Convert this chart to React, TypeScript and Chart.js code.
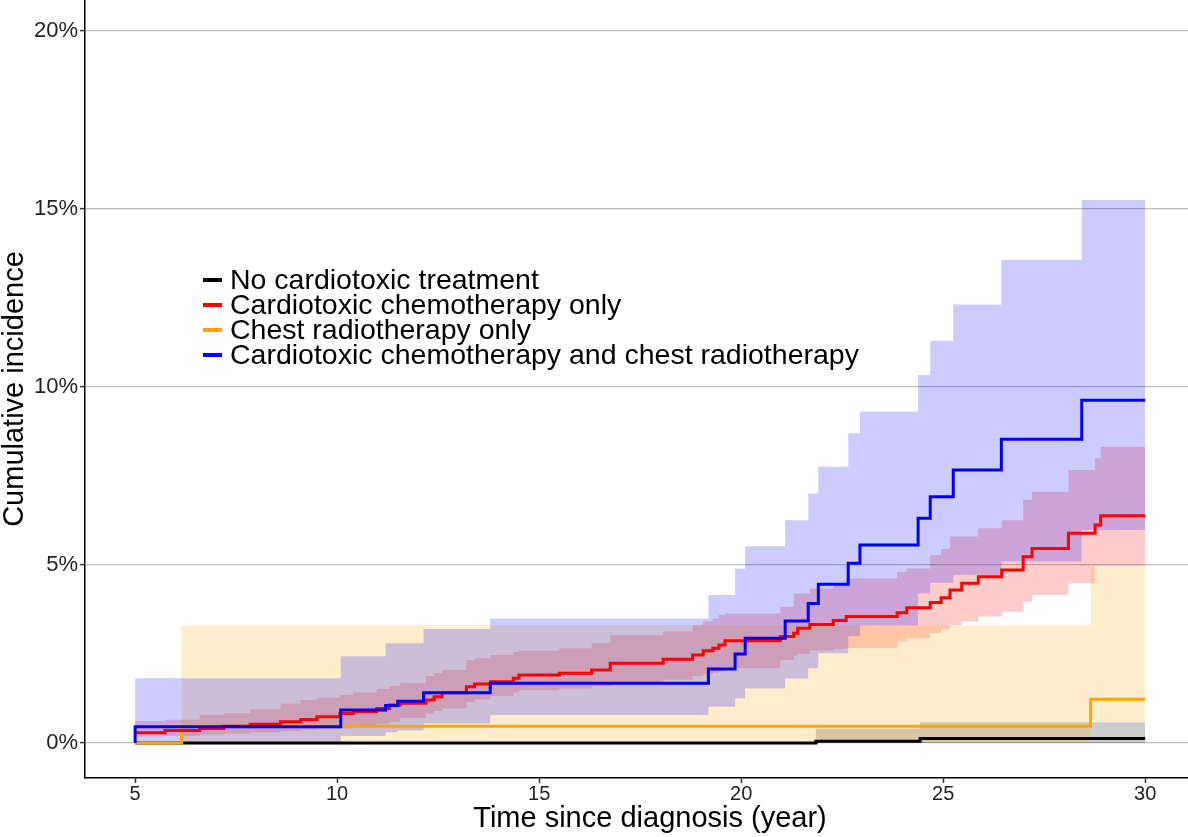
import React, { useEffect, useRef } from 'react';
import { Chart, registerables } from 'chart.js';

Chart.register(...registerables);

// ---------- data (percent) ----------
const X_TICKS = [5, 10, 15, 20, 25, 30];
const Y_TICKS = [0, 5, 10, 15, 20];
const X_TITLE = 'Time since diagnosis (year)';
const Y_TITLE = 'Cumulative incidence';

const LEGEND_LABELS = [
  'No cardiotoxic treatment',
  'Cardiotoxic chemotherapy only',
  'Chest radiotherapy only',
  'Cardiotoxic chemotherapy and chest radiotherapy',
];
const LEGEND_COLORS = ['#000000', '#FF0000', '#FFA500', '#0000FF'];

// No cardiotoxic treatment
const BLACK_T = [5, 21.85, 24.43, 30];
const BLACK_EST = [0, 0.05, 0.13, 0.13];
const BLACK_LO = [0, 0, 0, 0];
const BLACK_HI = [0, 0.4, 0.58, 0.58];

// Chest radiotherapy only
const ORANGE_T = [5, 6.15, 28.65, 30];
const ORANGE_EST = [0, 0.47, 1.23, 1.23];
const ORANGE_LO = [0, 0.03, 0.6, 0.6];
const ORANGE_HI = [0, 3.31, 4.92, 4.92];

// Cardiotoxic chemotherapy only
const RED_T = [5, 5.74, 6.6, 7.2, 7.85, 8.6, 9.1, 9.5, 10.07, 10.4, 10.98, 11.3, 11.56, 12.2, 12.4, 12.6, 13.2, 13.4, 13.8, 14.36, 14.5, 15.5, 16.3, 16.76, 18.07, 18.8, 19.06, 19.3, 19.45, 19.6, 20.97, 21.3, 21.4, 21.7, 22.28, 22.6, 23.86, 24.1, 24.68, 24.95, 25.17, 25.46, 25.87, 26.45, 26.98, 27.2, 28.1, 28.76, 28.9, 30];
const RED_EST = [0.29, 0.35, 0.41, 0.47, 0.53, 0.6, 0.66, 0.74, 0.83, 0.88, 0.97, 1.07, 1.12, 1.21, 1.3, 1.41, 1.58, 1.66, 1.72, 1.82, 1.91, 1.96, 2.05, 2.24, 2.35, 2.47, 2.59, 2.66, 2.75, 2.87, 2.99, 3.08, 3.22, 3.33, 3.44, 3.55, 3.66, 3.8, 3.95, 4.08, 4.3, 4.49, 4.67, 4.86, 5.23, 5.46, 5.89, 6.12, 6.38, 6.38];
const RED_HI = [0.62, 0.65, 0.79, 0.84, 0.95, 1.1, 1.21, 1.27, 1.35, 1.42, 1.52, 1.6, 1.68, 1.88, 1.96, 2.05, 2.33, 2.38, 2.47, 2.55, 2.6, 2.66, 2.8, 3.03, 3.13, 3.31, 3.41, 3.5, 3.6, 3.64, 3.83, 4.2, 4.2, 4.34, 4.45, 4.62, 4.81, 4.9, 5.28, 5.45, 5.8, 5.8, 6.03, 6.26, 6.83, 7.06, 7.67, 8.0, 8.32, 8.32];
const RED_LO = [0.18, 0.2, 0.24, 0.27, 0.3, 0.34, 0.37, 0.39, 0.41, 0.46, 0.55, 0.6, 0.7, 0.82, 0.9, 0.97, 1.15, 1.22, 1.32, 1.42, 1.48, 1.53, 1.6, 1.7, 1.78, 1.88, 1.93, 1.97, 2.02, 2.1, 2.33, 2.45, 2.5, 2.6, 2.65, 2.67, 2.85, 2.94, 3.08, 3.2, 3.31, 3.41, 3.55, 3.69, 3.97, 4.16, 4.49, 4.96, 4.96, 4.96];

// Cardiotoxic chemotherapy and chest radiotherapy
const BLUE_T = [5, 5, 10.09, 11.2, 11.5, 12.14, 13.79, 19.19, 19.85, 20.1, 21.09, 21.66, 21.91, 22.65, 22.94, 24.38, 24.68, 25.25, 26.44, 28.43, 30];
const BLUE_EST = [0, 0.46, 0.93, 1.05, 1.17, 1.41, 1.68, 2.08, 2.5, 2.94, 3.43, 3.92, 4.46, 5.05, 5.56, 6.31, 6.92, 7.67, 8.53, 9.63, 9.63];
const BLUE_HI = [0, 1.82, 2.44, 2.8, 2.8, 3.2, 3.5, 4.16, 4.9, 5.53, 6.26, 7.01, 7.76, 8.7, 9.31, 10.34, 11.3, 12.32, 13.57, 15.25, 15.25];
const BLUE_LO = [0, 0, 0.2, 0.3, 0.35, 0.55, 0.79, 1.02, 1.25, 1.53, 1.81, 2.1, 2.52, 3.0, 3.3, 4.2, 4.5, 4.72, 5.1, 5.98, 5.98];

// ---------- helpers ----------
const pts = (t: number[], v: number[]) => t.map((x, i) => ({ x, y: v[i] }));

const lineDs = (label: string, t: number[], v: number[], color: string) => ({
  label,
  data: pts(t, v),
  borderColor: color,
  borderWidth: 3,
  pointRadius: 0,
  stepped: true,
  fill: false,
});

const bandDs = (t: number[], lo: number[], hi: number[], fillColor: string) => [
  {
    label: 'hi',
    data: pts(t, hi),
    borderColor: 'rgba(0,0,0,0)',
    borderWidth: 0,
    pointRadius: 0,
    stepped: true,
    backgroundColor: fillColor,
    fill: '+1',
  },
  {
    label: 'lo',
    data: pts(t, lo),
    borderColor: 'rgba(0,0,0,0)',
    borderWidth: 0,
    pointRadius: 0,
    stepped: true,
    fill: false,
  },
];

const FONT = '"Liberation Sans", Arial, sans-serif';

const insideLegend = {
  id: 'insideLegend',
  afterDatasetsDraw(chart: any) {
    const ctx = chart.ctx;
    const { left, top } = chart.chartArea;
    ctx.save();
    ctx.font = `28.5px ${FONT}`;
    ctx.textBaseline = 'middle';
    ctx.textAlign = 'left';
    LEGEND_LABELS.forEach((lab, i) => {
      const y = top + 280 + i * 25;
      ctx.strokeStyle = LEGEND_COLORS[i];
      ctx.lineWidth = 4;
      ctx.beginPath();
      ctx.moveTo(left + 118, y);
      ctx.lineTo(left + 137, y);
      ctx.stroke();
      ctx.fillStyle = '#000';
      ctx.fillText(lab, left + 145, y + 1);
    });
    ctx.restore();
  },
};

// x-axis title, centred on the (partly cropped) panel like the original
const xTitle = {
  id: 'xTitle',
  afterDraw(chart: any) {
    const ctx = chart.ctx;
    const { left } = chart.chartArea;
    ctx.save();
    ctx.font = `29px ${FONT}`;
    ctx.textBaseline = 'middle';
    ctx.textAlign = 'center';
    ctx.fillStyle = '#000';
    ctx.fillText(X_TITLE, left + 565, chart.height - 18);
    ctx.restore();
  },
};

const noPad = (s: any) => {
  s.paddingTop = 0;
  s.paddingBottom = 0;
  s.paddingLeft = 0;
  s.paddingRight = 0;
};

export default function App() {
  const ref = useRef<HTMLCanvasElement>(null);

  useEffect(() => {
    document.body.style.margin = '0';
    Chart.defaults.font.family = FONT;
    const chart = new Chart(ref.current as HTMLCanvasElement, {
      type: 'line',
      data: {
        datasets: [
          lineDs(LEGEND_LABELS[3], BLUE_T, BLUE_EST, '#0000FF'),
          lineDs(LEGEND_LABELS[1], RED_T, RED_EST, '#FF0000'),
          lineDs(LEGEND_LABELS[2], ORANGE_T, ORANGE_EST, '#FFA500'),
          lineDs(LEGEND_LABELS[0], BLACK_T, BLACK_EST, '#000000'),
          ...bandDs(BLUE_T, BLUE_LO, BLUE_HI, 'rgba(0,0,255,0.2)'),
          ...bandDs(ORANGE_T, ORANGE_LO, ORANGE_HI, 'rgba(255,165,0,0.2)'),
          ...bandDs(RED_T, RED_LO, RED_HI, 'rgba(255,0,0,0.2)'),
          ...bandDs(BLACK_T, BLACK_LO, BLACK_HI, 'rgba(0,0,0,0.2)'),
        ] as any,
      },
      options: {
        responsive: true,
        maintainAspectRatio: false,
        animation: false,
        layout: { padding: 0 },
        plugins: {
          legend: { display: false },
          tooltip: { enabled: false },
        },
        scales: {
          x: {
            type: 'linear',
            min: 3.76,
            max: 31.06,
            afterBuildTicks: (s: any) => {
              s.ticks = X_TICKS.map((v) => ({ value: v }));
            },
            afterFit: (s: any) => {
              s.height = 59;
              noPad(s);
            },
            ticks: {
              font: { size: 20, lineHeight: 1 },
              color: '#222',
              padding: 1,
              maxRotation: 0,
              autoSkip: false,
              callback: (v: any) => String(v),
            },
            grid: { drawOnChartArea: false, tickLength: 5, tickColor: '#333', tickWidth: 1.5 },
            border: { color: '#000', width: 1.5 },
            title: { display: false },
          },
          y: {
            type: 'linear',
            min: -0.983,
            max: 20.87,
            afterBuildTicks: (s: any) => {
              s.ticks = Y_TICKS.map((v) => ({ value: v }));
            },
            afterFit: (s: any) => {
              s.width = 85;
              noPad(s);
            },
            ticks: {
              font: { size: 22 },
              color: '#222',
              padding: 2,
              callback: (v: any) => v + '%',
            },
            grid: { color: '#BEBEBE', lineWidth: 1.2, tickLength: 5, tickColor: '#333', tickWidth: 1.5 },
            border: { color: '#000', width: 1.5 },
            title: {
              display: true,
              text: Y_TITLE,
              color: '#000',
              font: { size: 29, lineHeight: 1 },
              padding: { top: 0, bottom: 0 },
            },
          },
        },
      },
      plugins: [insideLegend, xTitle],
    } as any);
    return () => chart.destroy();
  }, []);

  return (
    <div style={{ position: 'absolute', left: 0, top: 0, width: 1188, height: 837 }}>
      <canvas ref={ref} />
    </div>
  );
}
